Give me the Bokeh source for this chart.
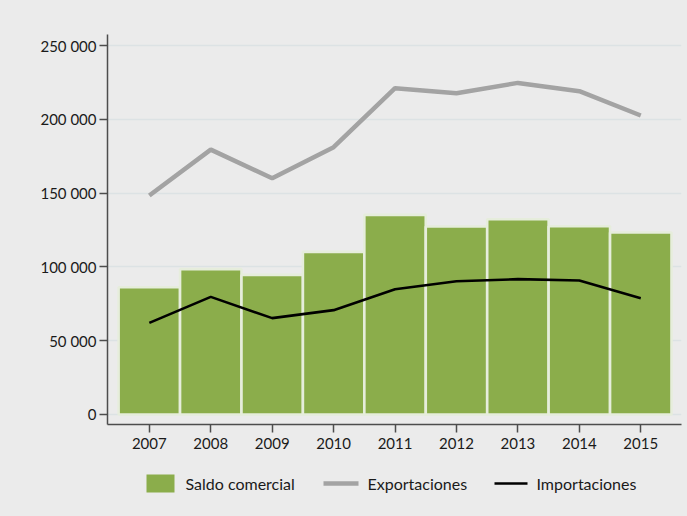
from bokeh.plotting import figure
from bokeh.models import FixedTicker, Range1d, ColumnDataSource
from bokeh.core.properties import value
from bokeh.layouts import column
from bokeh.embed import file_html
from bokeh.resources import INLINE

years = [2007, 2008, 2009, 2010, 2011, 2012, 2013, 2014, 2015]
saldo = [86200, 98500, 94600, 110200, 135300, 127400, 132300, 127600, 123300]
exportaciones = [148400, 179500, 160100, 181100, 221100, 217700, 224700, 219100, 202600]
importaciones = [62100, 79700, 65300, 70700, 84900, 90300, 91700, 90800, 78800]
y_ticks = [0, 50000, 100000, 150000, 200000, 250000]
y_tick_labels = ["0", "50 000", "100 000", "150 000", "200 000", "250 000"]
series_names = ["Saldo comercial", "Exportaciones", "Importaciones"]

BG = "#EBEBEB"
FONT = "Lato"
TEXT_COLOR = "#1A1A1A"
BAR_STYLE = dict(fill_color="#8BAD4B", line_color="#E6EDDC", line_width=2.6)
EXP_STYLE = dict(line_color="#A3A3A3", line_width=4.5)
IMP_STYLE = dict(line_color="#000000", line_width=2.6)

src = ColumnDataSource(dict(year=years, saldo=saldo, exp=exportaciones, imp=importaciones))

W = 683
BL, BR = 107, 2
p = figure(width=W, height=462, output_backend="svg", toolbar_location=None,
           x_range=Range1d(2006.319, 2015.663), y_range=Range1d(-6780, 257500),
           min_border_left=BL, min_border_right=BR, min_border_top=34, min_border_bottom=38)
p.background_fill_color = BG
p.border_fill_color = BG
p.outline_line_color = None

p.vbar(x="year", top="saldo", bottom=0, width=1.0, source=src, **BAR_STYLE)
p.line(x="year", y="exp", source=src, **EXP_STYLE)
p.line(x="year", y="imp", source=src, **IMP_STYLE)

# grid
p.xgrid.visible = False
p.ygrid.ticker = FixedTicker(ticks=y_ticks)
p.ygrid.grid_line_color = "#DCE2E4"
p.ygrid.grid_line_width = 1.5

# axes
p.xaxis.ticker = FixedTicker(ticks=years)
p.yaxis.ticker = FixedTicker(ticks=y_ticks)
p.yaxis.major_label_overrides = {t: l for t, l in zip(y_ticks, y_tick_labels)}
for ax in (p.xaxis[0], p.yaxis[0]):
    ax.axis_line_color = "#4D4D4D"
    ax.axis_line_width = 1.5
    ax.major_tick_line_color = "#4D4D4D"
    ax.major_tick_line_width = 1.5
    ax.major_tick_out = 8
    ax.major_tick_in = 0
    ax.minor_tick_line_color = None
    ax.major_label_text_font = FONT
    ax.major_label_text_font_size = "15px"
    ax.major_label_text_color = TEXT_COLOR
p.yaxis.major_label_standoff = 3
p.xaxis.major_label_standoff = 5

# legend strip below the chart, in page-pixel units (frame aligned with the chart's frame)
LH = 50
lg = figure(width=W, height=LH, output_backend="svg", toolbar_location=None,
            x_axis_type=None, y_axis_type=None,
            x_range=Range1d(BL, W - BR), y_range=Range1d(0, LH),
            min_border_left=BL, min_border_right=BR, min_border_top=0, min_border_bottom=0)
lg.grid.visible = False
lg.background_fill_color = BG
lg.border_fill_color = BG
lg.outline_line_color = None

mid = 29
lg.quad(left=146, right=174, bottom=mid - 9, top=mid + 9,
        fill_color=BAR_STYLE["fill_color"], line_color=None)
lg.line(x=[323, 358], y=[mid, mid], **EXP_STYLE)
lg.line(x=[494, 527], y=[mid, mid], **IMP_STYLE)
lg.text(x=[185, 367, 536], y=[mid, mid, mid], text=series_names,
        text_font=value(FONT), text_font_size="16px", text_color=TEXT_COLOR,
        text_baseline="middle", text_align="left")

layout = column(p, lg, spacing=0)

html = file_html(layout, INLINE)
html = html.replace("<head>", "<head><style>html,body{background:#EBEBEB;}</style>", 1)
open("out.html", "w").write(html)
